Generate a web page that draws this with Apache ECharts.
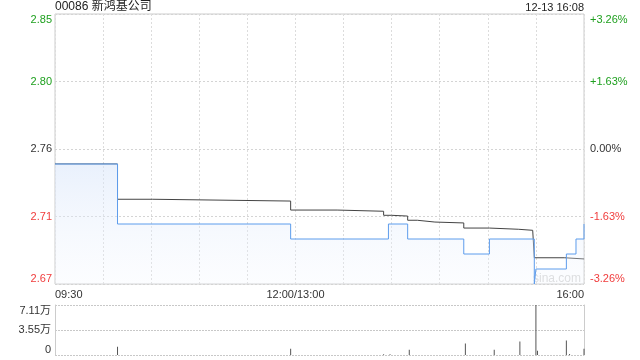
<!DOCTYPE html>
<html><head><meta charset="utf-8">
<script src="https://cdn.jsdelivr.net/npm/echarts@6/dist/echarts.min.js"></script>
<style>html,body{margin:0;padding:0;background:#fff}#c{width:640px;height:360px}</style>
</head><body><div id="c"></div>
<script>
const titleText = '00086 新鸿基公司';
const dateText = '12-13 16:08';
const watermarkText = 'sina.com';

const priceTimes  = ['09:30','10:09','11:57','13:58','14:10','14:45','15:01','15:29','15:30','15:49','15:55','16:00'];
const priceValues = [2.75, 2.71, 2.70, 2.71, 2.70, 2.69, 2.70, 2.67, 2.68, 2.69, 2.70, 2.71];

const avgTimes  = ['09:30','10:09','10:31','11:57','13:26','13:55','14:00','14:10','14:16','14:27','14:45','15:01','15:19','15:28','15:29','15:48','16:00'];
const avgValues = [2.75, 2.7265, 2.7253, 2.7193, 2.7185, 2.7158, 2.7153, 2.7125, 2.7113, 2.7107, 2.7073, 2.7065, 2.7058, 2.7053, 2.6875, 2.6867, 2.6867];

const volTimes  = ['10:09','11:57','13:55','13:59','14:11','14:46','15:04','15:20','15:30','15:31','15:49','15:51','16:00'];
const volValues = [11800, 8900, 900, 1200, 7400, 16300, 7400, 19300, 71100, 5900, 20700, 1500, 8900];

const prevClose = 2.76;
const priceTicks = [2.67, 2.715, 2.76, 2.805, 2.85];
const priceTickLabels = ['2.67', '2.71', '2.76', '2.80', '2.85'];
const pctTicks = [-3.26, -1.63, 0, 1.63, 3.26];
const pctTickLabels = ['-3.26%', '-1.63%', '0.00%', '+1.63%', '+3.26%'];
const volTicks = [0, 35550, 71100];
const volTickLabels = ['0', '3.55万', '7.11万'];
const timeTickValues = [0, 150, 330];
const timeTickLabels = ['09:30', '12:00/13:00', '16:00'];

function toIdx(t) {
  const [h, m] = t.split(':').map(Number);
  const mins = h * 60 + m;
  return mins <= 720 ? mins - 570 : mins - 780 + 150;
}
function pick(ticks, labels, v) {
  for (let i = 0; i < ticks.length; i++) if (Math.abs(ticks[i] - v) < 1e-6) return labels[i];
  return '';
}
const GREEN = '#1fa01f', RED = '#f03c3c', DARK = '#333';
const FONT = 'Arial, "Liberation Sans", "Noto Sans CJK SC", sans-serif';

const priceData = priceTimes.map((t, i) => [toIdx(t), priceValues[i]]);
const avgData = avgTimes.map((t, i) => [toIdx(t), avgValues[i]]);
const volData = volTimes.map((t, i) => [toIdx(t), volValues[i]]);

const chart = echarts.init(document.getElementById('c'), null, {renderer: 'canvas'});
chart.setOption({
  animation: false,
  backgroundColor: '#fff',
  textStyle: {fontFamily: FONT},
  title: [
    {text: titleText, left: 55, top: 1, padding: 0, textStyle: {fontSize: 12, fontWeight: 'normal', color: '#222', fontFamily: FONT}},
    {text: dateText, right: 56, top: 2, padding: 0, textStyle: {fontSize: 11, fontWeight: 'normal', color: '#222', fontFamily: FONT}}
  ],
  graphic: [
    {type: 'text', left: 533, top: 273, style: {text: watermarkText, fill: '#d8d8d8', font: '12px ' + FONT}}
  ],
  grid: [
    {left: 55, right: 56, top: 14, height: 270, show: true, borderColor: '#cccccc', borderWidth: 1, backgroundColor: 'transparent'},
    {left: 55, right: 56, top: 305, height: 50, show: false}
  ],
  xAxis: [
    {type: 'value', gridIndex: 0, min: 0, max: 330, interval: 30,
     axisLine: {show: false}, axisTick: {show: false},
     splitLine: {show: true, lineStyle: {color: '#dcdcdc', type: [2, 2], width: 1}},
     axisLabel: {show: true, margin: 5, fontSize: 11, color: DARK, fontFamily: FONT,
       showMinLabel: true, showMaxLabel: true, alignMinLabel: 'left', alignMaxLabel: 'right',
       formatter: v => pick(timeTickValues, timeTickLabels, v)}},
    {type: 'value', gridIndex: 1, min: 0, max: 330, interval: 30,
     axisLine: {show: false}, axisTick: {show: false}, splitLine: {show: false}, axisLabel: {show: false}}
  ],
  yAxis: [
    {type: 'value', gridIndex: 0, position: 'left', min: 2.67, max: 2.85,
     axisLine: {show: false},
     axisTick: {show: false, customValues: priceTicks},
     splitLine: {show: true, lineStyle: {color: '#d4d4d4', type: [2, 2], width: 1}},
     axisLabel: {show: true, customValues: priceTicks, margin: 3, fontSize: 11, fontFamily: FONT,
       verticalAlignMinLabel: 'bottom', verticalAlignMaxLabel: 'top',
       formatter: v => pick(priceTicks, priceTickLabels, v),
       color: v => (Math.abs(v - prevClose) < 1e-6 ? DARK : (v > prevClose ? GREEN : RED))}},
    {type: 'value', gridIndex: 0, position: 'right', min: -3.26, max: 3.26,
     axisLine: {show: false},
     axisTick: {show: false, customValues: pctTicks},
     splitLine: {show: false},
     axisLabel: {show: true, customValues: pctTicks, margin: 6, fontSize: 11, fontFamily: FONT,
       verticalAlignMinLabel: 'bottom', verticalAlignMaxLabel: 'top',
       formatter: v => pick(pctTicks, pctTickLabels, v),
       color: v => (Math.abs(v) < 1e-6 ? DARK : (v > 0 ? GREEN : RED))}},
    {type: 'value', gridIndex: 1, position: 'left', min: 0, max: 71100,
     axisLine: {show: true, lineStyle: {color: '#cccccc', width: 1}},
     axisTick: {show: false, customValues: volTicks},
     splitLine: {show: true, lineStyle: {color: '#c8c8c8', type: [2, 1], width: 1}},
     axisLabel: {show: true, customValues: volTicks, margin: 4, fontSize: 11, color: DARK, fontFamily: FONT,
       verticalAlignMinLabel: 'bottom', verticalAlignMaxLabel: 'top',
       formatter: v => pick(volTicks, volTickLabels, v)}},
    {type: 'value', gridIndex: 1, position: 'right', min: 0, max: 71100,
     axisLine: {show: true, lineStyle: {color: '#cccccc', width: 1}},
     axisTick: {show: false}, splitLine: {show: false}, axisLabel: {show: false}}
  ],
  series: [
    {type: 'line', name: 'avg', xAxisIndex: 0, yAxisIndex: 0, data: avgData, step: 'end',
     showSymbol: false, symbol: 'none', lineStyle: {color: '#444', width: 1}, z: 3},
    {type: 'line', name: 'price', xAxisIndex: 0, yAxisIndex: 0, data: priceData, step: 'end',
     showSymbol: false, symbol: 'none', lineStyle: {color: '#5d9cec', width: 1}, z: 4,
     areaStyle: {origin: 'start', color: new echarts.graphic.LinearGradient(0, 0, 0, 1, [
       {offset: 0, color: 'rgba(214,228,250,0.75)'},
       {offset: 1, color: 'rgba(240,245,254,0.3)'}
     ])}},
    {type: 'bar', name: 'vol', xAxisIndex: 1, yAxisIndex: 2, data: volData, barWidth: 1,
     itemStyle: {color: '#555'}}
  ]
});
</script></body></html>
